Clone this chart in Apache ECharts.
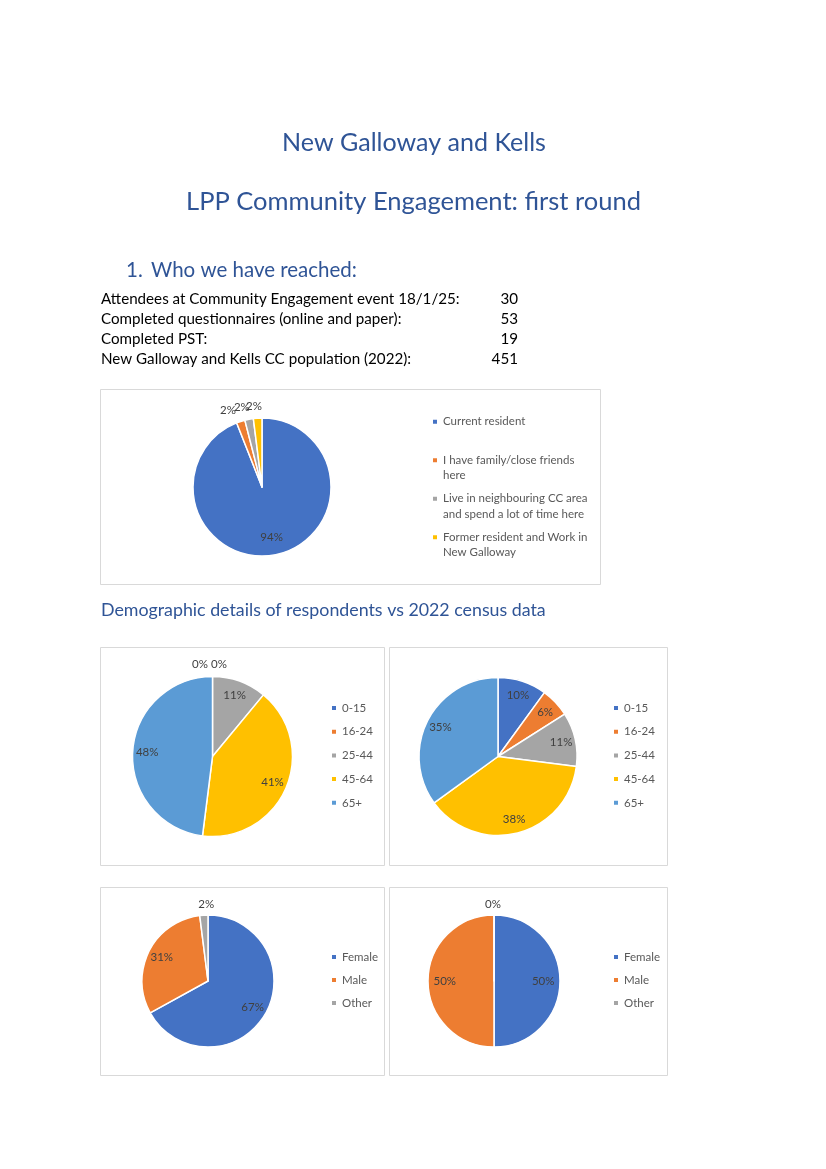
<!DOCTYPE html>
<html><head><meta charset="utf-8">
<script src="https://cdn.jsdelivr.net/npm/echarts@6/dist/echarts.min.js"></script>
<style>html,body{margin:0;padding:0;background:#fff}#c{width:826px;height:1169px}</style>
</head><body><div id="c"></div>
<script>
// ---------- data ----------
const reachedLabels = ['Attendees at Community Engagement event 18/1/25:', 'Completed questionnaires (online and paper):', 'Completed PST:', 'New Galloway and Kells CC population (2022):'];
const reachedCounts = [30, 53, 19, 451];

const residencyCats = ['Current resident', 'I have family/close friends here', 'Live in neighbouring CC area and spend a lot of time here', 'Former resident and Work in New Galloway'];
const residencyPct = [94, 2, 2, 2];

const ageCats = ['0-15', '16-24', '25-44', '45-64', '65+'];
const ageRespondentsPct = [0, 0, 11, 41, 48];
const ageCensusPct = [10, 6, 11, 38, 35];

const genderCats = ['Female', 'Male', 'Other'];
const genderRespondentsPct = [67, 31, 2];
const genderCensusPct = [50, 50, 0];

const titleText = 'New Galloway and Kells';
const subtitleText = 'LPP Community Engagement: first round';
const section1Num = '1.';
const section1Text = 'Who we have reached:';
const section2Text = 'Demographic details of respondents vs 2022 census data';

// ---------- style ----------
const FONT = 'Lato, "Open Sans", sans-serif';
const BLUE_HEAD = '#2F5496';
const PALETTE = ['#4472C4', '#ED7D31', '#A5A5A5', '#FFC000', '#5B9BD5'];
const LEGEND_WRAP = {
  'Current resident': 'Current resident\n ',
  'I have family/close friends here': 'I have family/close friends\nhere',
  'Live in neighbouring CC area and spend a lot of time here': 'Live in neighbouring CC area\nand spend a lot of time here',
  'Former resident and Work in New Galloway': 'Former resident and Work in\nNew Galloway'
};

const mctx = document.createElement('canvas').getContext('2d');
function fitSize(text, target) {
  mctx.font = '100px ' + FONT;
  return 100 * target / mctx.measureText(text).width;
}

function textEl(text, x, y, size, color, align) {
  return {
    type: 'text', x: x, y: y, silent: true,
    style: { text: text, fontSize: size, fontFamily: FONT, fill: color,
      align: align, verticalAlign: 'middle', textAlign: align, textVerticalAlign: 'middle' }
  };
}
function boxEl(x, y, w, h) {
  return { type: 'rect', silent: true, shape: { x: x + 0.5, y: y + 0.5, width: w, height: h },
    style: { fill: 'none', stroke: '#D9D9D9', lineWidth: 1 } };
}

function piePair(cats, vals, cx, cy, r, ringInner, outside, lineLen) {
  const main = {
    type: 'pie', center: [cx, cy], radius: r, startAngle: 90, clockwise: true,
    avoidLabelOverlap: false, silent: true, animation: false, percentPrecision: 0,
    labelLayout: { hideOverlap: false },
    itemStyle: { borderColor: '#fff', borderWidth: 1.5 },
    label: { show: false, position: 'outside', formatter: '{d}%', color: '#404040',
      fontFamily: FONT, fontSize: 11.5, distanceToLabelLine: 0 },
    labelLine: { show: false, length: lineLen, length2: 0 },
    emphasis: { disabled: true },
    data: cats.map((n, i) => ({
      name: n, value: vals[i], itemStyle: { color: PALETTE[i] },
      label: outside[i] ? { show: true, offset: outside[i] } : { show: false }
    }))
  };
  const overlay = {
    type: 'pie', center: [cx, cy], radius: [r * ringInner, r], startAngle: 90, clockwise: true,
    avoidLabelOverlap: false, silent: true, animation: false, percentPrecision: 0,
    labelLayout: { hideOverlap: false },
    itemStyle: { color: 'rgba(0,0,0,0)', borderWidth: 0 },
    label: { show: true, position: 'inside', formatter: '{d}%', color: '#404040',
      fontFamily: FONT, fontSize: 11.5 },
    labelLine: { show: false },
    emphasis: { disabled: true },
    data: cats.map((n, i) => ({ name: n, value: vals[i], label: { show: !outside[i] } }))
  };
  return [main, overlay];
}

function legendFor(cats, left, top, gap, wrap) {
  const base = {
    orient: 'vertical', left: left, top: top, padding: 0, selectedMode: false,
    itemWidth: 6, itemHeight: 6, icon: 'rect', itemGap: gap,
    textStyle: { color: '#595959', fontFamily: FONT, fontSize: 11.5, lineHeight: 14 },
    data: cats.map((n, i) => ({ name: n, itemStyle: { color: PALETTE[i] } }))
  };
  if (wrap) {
    base.itemHeight = 31;
    base.icon = 'path://M0,0L0.01,0L0,0.01Z M0,4.75L6,4.75L6,10.75L0,10.75Z M0,31L0.01,31L0,30.99Z';
    base.textStyle.lineHeight = 15.5;
    base.formatter = n => LEGEND_WRAP[n] || n;
  }
  return base;
}

// ---------- texts ----------
const bodySize = fitSize(reachedLabels[0], 359);
const sec1Size = fitSize(section1Text, 206);
const graphics = [
  textEl(titleText, 414, 143, fitSize(titleText, 264), BLUE_HEAD, 'center'),
  textEl(subtitleText, 413.5, 202, fitSize(subtitleText, 455), BLUE_HEAD, 'center'),
  textEl(section1Num, 126, 270, sec1Size, BLUE_HEAD, 'left'),
  textEl(section1Text, 151, 270, sec1Size, BLUE_HEAD, 'left'),
  textEl(section2Text, 101, 610, fitSize(section2Text, 445), BLUE_HEAD, 'left'),
  boxEl(100, 389, 500, 195),
  boxEl(100, 647, 284, 218),
  boxEl(389, 647, 278, 218),
  boxEl(100, 887, 284, 188),
  boxEl(389, 887, 278, 188)
];
const rowY = [299, 319, 339, 359];
reachedLabels.forEach((t, i) => {
  graphics.push(textEl(t, 101, rowY[i], bodySize, '#000', 'left'));
  graphics.push(textEl(String(reachedCounts[i]), 518, rowY[i], bodySize, '#000', 'right'));
});

const series = [].concat(
  piePair(residencyCats, residencyPct, 262, 487, 69, 0.4, [null, [-1, 0], [3, 0], [5, 0]], 12),
  piePair(ageCats, ageRespondentsPct, 212.5, 756.5, 80, 0.56, [[-4.5, 0], [14.5, 0], null, null, null], 12),
  piePair(ageCats, ageCensusPct, 498, 756.5, 79, 0.56, [null, null, null, null, null], 12),
  piePair(genderCats, genderRespondentsPct, 208, 981, 66, 0.48, [null, null, [11, 0]], 11),
  piePair(genderCats, genderCensusPct, 494, 981, 66, 0.4, [null, null, [7, 0]], 11)
);

const chart = echarts.init(document.getElementById('c'), null, { renderer: 'canvas', width: 826, height: 1169 });
chart.setOption({
  backgroundColor: '#fff',
  animation: false,
  legend: [
    legendFor(residencyCats, 431, 413, 5.5, true),
    legendFor(ageCats, 330, 701, 9.7, false),
    legendFor(ageCats, 612, 701, 9.7, false),
    legendFor(genderCats, 330, 950, 9, false),
    legendFor(genderCats, 612, 950, 9, false)
  ],
  graphic: graphics,
  series: series
});
</script></body></html>
